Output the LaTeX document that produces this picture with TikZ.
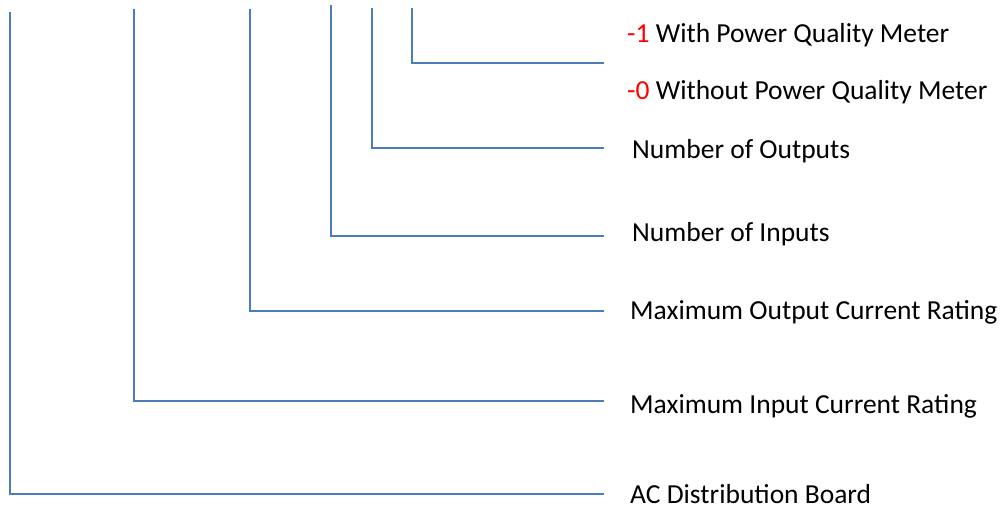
\documentclass[tikz,border=0pt]{standalone}
\usepackage{fontspec}
\setmainfont{Carlito}
\definecolor{leadblue}{RGB}{74,126,187}
\tikzset{
  lead/.style={draw=leadblue, line width=2bp},
  lbl/.style={anchor=base west, inner sep=0pt, font=\fontsize{27.6}{32}\selectfont},
  code/.style={text=red}
}

\begin{document}
\begin{tikzpicture}[x=1bp, y=-1bp]
\useasboundingbox (0,0) rectangle (1005,508);
\def \tip {604} % where the leads stop

% leads: name / x of the riser / top / y of the run
\foreach \n/\x/\t/\y in {board/10/12/494, inrate/134/9/401, outrate/250/9/311,
                          inputs/331/5/236, outputs/372/8/148, meter/412/8/63}
{
	\coordinate (\n top) at (\x,\t);
	\coordinate (\n end) at (\tip,\y);
	\draw[lead] (\n top) |- (\n end);
}

\node[lbl] (meterone) at (627,43) {\textcolor{red}{-1} With Power Quality Meter};
\node[lbl] (meterzero) at (627,100) {\textcolor{red}{-0} Without Power Quality Meter};
\node[lbl] (outputs) at (632,159) {Number of Outputs};
\node[lbl] (inputs) at (632,242) {Number of Inputs};
\node[lbl] (outrate) at (630,320) {Maximum Output Current Rating};
\node[lbl] (inrate) at (630,413) {Maximum Input Current Rating};
\node[lbl] (board) at (630,503) {AC Distribution Board};
\end{tikzpicture}
\end{document}
